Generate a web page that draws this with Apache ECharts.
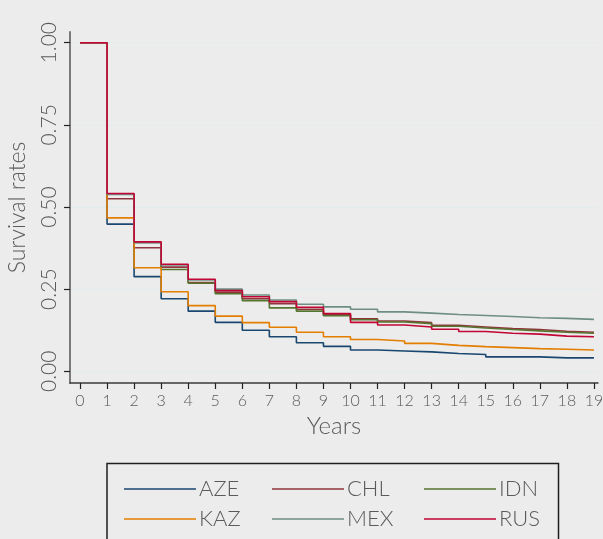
<!DOCTYPE html>
<html>
<head>
<meta charset="utf-8">
<script src="https://cdn.jsdelivr.net/npm/echarts@6/dist/echarts.min.js"></script>
<style>
html,body{margin:0;padding:0;background:#ececec;}
#c{width:603px;height:539px;}
</style>
</head>
<body>
<div id="c"></div>
<script>
const years = [0,1,2,3,4,5,6,7,8,9,10,11,12,13,14,15,16,17,18,19];
const xTicks = [0,1,2,3,4,5,6,7,8,9,10,11,12,13,14,15,16,17,18,19];
const yTicks = [0, 0.25, 0.5, 0.75, 1];
const countries = ['AZE','CHL','IDN','KAZ','MEX','RUS'];
const colors = ['#1a476f','#90353b','#55752f','#e37e00','#6e8e84','#c10534'];

const AZE = [1,0.448,0.288,0.221,0.183,0.149,0.125,0.105,0.087,0.076,0.065,0.062,0.059,0.054,0.051,0.044,0.044,0.041,0.041,0.041];
const CHL = [1,0.525,0.376,0.317,0.270,0.241,0.221,0.206,0.189,0.172,0.160,0.153,0.148,0.140,0.135,0.130,0.127,0.122,0.119,0.119];
const IDN = [1,0.539,0.392,0.310,0.268,0.236,0.215,0.193,0.183,0.169,0.157,0.150,0.145,0.137,0.132,0.127,0.123,0.119,0.116,0.116];
const KAZ = [1,0.467,0.315,0.242,0.200,0.168,0.148,0.134,0.119,0.105,0.097,0.092,0.085,0.079,0.075,0.072,0.069,0.067,0.065,0.065];
const MEX = [1,0.538,0.391,0.324,0.278,0.250,0.232,0.217,0.204,0.196,0.189,0.181,0.177,0.173,0.170,0.167,0.163,0.161,0.158,0.158];
const RUS = [1,0.541,0.394,0.326,0.280,0.246,0.227,0.212,0.195,0.176,0.149,0.141,0.135,0.128,0.121,0.116,0.113,0.107,0.105,0.105];
const seriesValues = [AZE, CHL, IDN, KAZ, MEX, RUS];

const FONT = 'Lato';
const TXT = '#5a5a5a';

const series = countries.map((name, i) => ({
  name: name,
  type: 'line',
  step: 'end',
  showSymbol: false,
  symbol: 'none',
  animation: false,
  lineStyle: {width: 1.6, color: colors[i]},
  itemStyle: {color: colors[i]},
  data: years.map((y, k) => [y, seriesValues[i][k]])
}));

const legendPos = [
  [124, 477], [272, 477], [424, 477],
  [124, 507], [272, 507], [424, 507]
];
const legendOrder = ['AZE','CHL','IDN','KAZ','MEX','RUS'];
const legends = legendOrder.map((n, i) => ({
  data: [{name: n, icon: 'rect'}],
  left: legendPos[i][0],
  top: legendPos[i][1],
  padding: 0,
  itemWidth: 72,
  itemHeight: 1.5,
  itemGap: 0,
  selectedMode: false,
  textStyle: {fontFamily: FONT, fontSize: 22, fontWeight: 300, color: TXT, lineHeight: 24, padding: [0,0,0,-2]}
}));

const chart = echarts.init(document.getElementById('c'), null, {renderer: 'canvas'});
chart.setOption({
  backgroundColor: '#ececec',
  animation: false,
  grid: {left: 70, right: 5, top: 32, bottom: 156, containLabel: false, outerBoundsMode: 'none'},
  legend: legends,
  xAxis: {
    type: 'value',
    min: -0.37,
    max: 19.15,
    name: 'Years',
    nameLocation: 'middle',
    nameGap: 30,
    nameTextStyle: {fontFamily: FONT, fontSize: 24, fontWeight: 300, color: TXT},
    axisLine: {show: true, onZero: false, lineStyle: {color: '#3a3a3a', width: 1.5}},
    axisTick: {show: true, length: 6, lineStyle: {color: '#222', width: 1.2}, customValues: xTicks},
    axisLabel: {customValues: xTicks, fontFamily: FONT, fontSize: 16, fontWeight: 300, color: TXT, margin: 10},
    splitLine: {show: false}
  },
  yAxis: {
    type: 'value',
    min: -0.0356,
    max: 1.0326,
    name: 'Survival rates',
    nameLocation: 'middle',
    nameRotate: 90,
    nameGap: 41,
    nameTextStyle: {fontFamily: FONT, fontSize: 23, fontWeight: 300, color: TXT},
    axisLine: {show: true, onZero: false, lineStyle: {color: '#7a7a7a', width: 2}},
    axisTick: {show: true, length: 6, lineStyle: {color: '#222', width: 1.2}, customValues: yTicks},
    axisLabel: {customValues: yTicks, rotate: 90, fontFamily: FONT, fontSize: 21, fontWeight: 300, color: TXT, margin: 10,
      formatter: v => v.toFixed(2)},
    splitLine: {show: true, lineStyle: {color: '#e3ebee', width: 1.2}}
  },
  graphic: [{
    type: 'rect',
    shape: {x: 107, y: 463.5, width: 451.5, height: 90},
    style: {fill: 'none', stroke: '#1e1e1e', lineWidth: 1.5},
    silent: true
  }],
  series: series
});
</script>
</body>
</html>
